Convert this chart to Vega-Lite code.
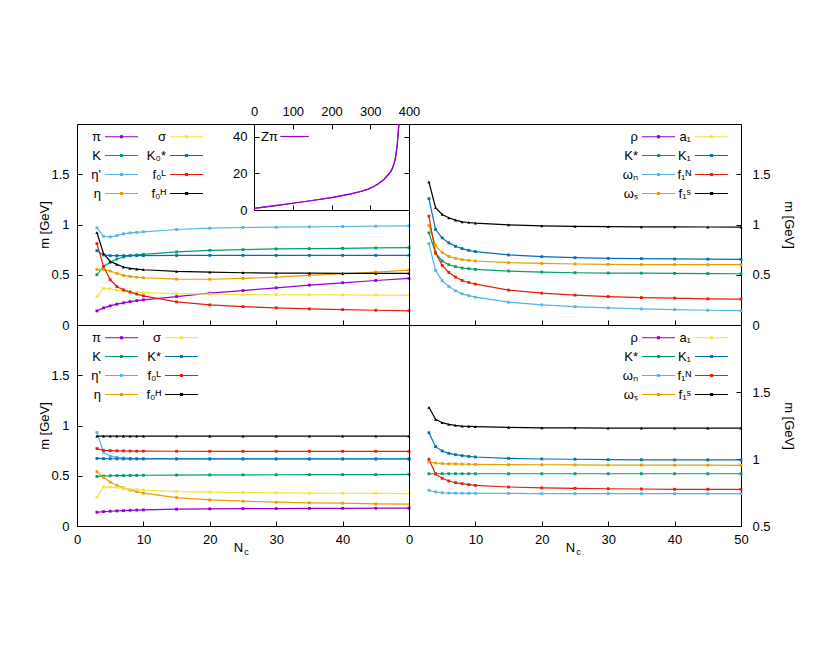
{
  "$schema": "https://vega.github.io/schema/vega-lite/v6.json",
  "padding": {"left": 38, "top": 104, "right": 5, "bottom": 5},
  "background": "white",
  "config": {
    "view": {"stroke": "black", "strokeWidth": 1},
    "axis": {"tickSize": -5, "tickColor": "black", "tickWidth": 1, "labelPadding": 12, "domain": false, "grid": false, "labelFont": "Liberation Sans", "labelFontSize": 13, "labelColor": "black", "titleFont": "Liberation Sans", "titleFontSize": 13, "titleFontWeight": "normal", "titleColor": "black", "labelFlush": false, "labelOverlap": false, "format": "~r"},
    "legend": {"labelFont": "Liberation Sans", "labelFontSize": 13, "labelColor": "black"}
  },
  "datasets": {
    "tl": [
      {"Nc": 3, "pi": 0.14, "sigma": 0.283, "K": 0.5, "K0s": 0.74, "etap": 0.967, "f0L": 0.81, "eta": 0.552, "f0H": 0.92},
      {"Nc": 4, "pi": 0.17, "sigma": 0.367, "K": 0.583, "K0s": 0.697, "etap": 0.883, "f0L": 0.583, "eta": 0.553, "f0H": 0.71},
      {"Nc": 5, "pi": 0.19, "sigma": 0.36, "K": 0.623, "K0s": 0.69, "etap": 0.877, "f0L": 0.45, "eta": 0.537, "f0H": 0.633},
      {"Nc": 6, "pi": 0.207, "sigma": 0.347, "K": 0.657, "K0s": 0.69, "etap": 0.89, "f0L": 0.383, "eta": 0.513, "f0H": 0.603},
      {"Nc": 7, "pi": 0.22, "sigma": 0.337, "K": 0.677, "K0s": 0.69, "etap": 0.907, "f0L": 0.35, "eta": 0.493, "f0H": 0.577},
      {"Nc": 8, "pi": 0.233, "sigma": 0.33, "K": 0.69, "K0s": 0.69, "etap": 0.917, "f0L": 0.327, "eta": 0.483, "f0H": 0.563},
      {"Nc": 9, "pi": 0.243, "sigma": 0.326, "K": 0.697, "K0s": 0.69, "etap": 0.922, "f0L": 0.307, "eta": 0.476, "f0H": 0.556},
      {"Nc": 10, "pi": 0.25, "sigma": 0.323, "K": 0.703, "K0s": 0.69, "etap": 0.927, "f0L": 0.29, "eta": 0.47, "f0H": 0.55},
      {"Nc": 15, "pi": 0.283, "sigma": 0.313, "K": 0.727, "K0s": 0.692, "etap": 0.95, "f0L": 0.23, "eta": 0.456, "f0H": 0.533},
      {"Nc": 20, "pi": 0.317, "sigma": 0.307, "K": 0.743, "K0s": 0.693, "etap": 0.963, "f0L": 0.2, "eta": 0.455, "f0H": 0.527},
      {"Nc": 25, "pi": 0.343, "sigma": 0.303, "K": 0.75, "K0s": 0.693, "etap": 0.97, "f0L": 0.183, "eta": 0.463, "f0H": 0.52},
      {"Nc": 30, "pi": 0.37, "sigma": 0.301, "K": 0.757, "K0s": 0.693, "etap": 0.973, "f0L": 0.17, "eta": 0.477, "f0H": 0.517},
      {"Nc": 35, "pi": 0.397, "sigma": 0.3, "K": 0.76, "K0s": 0.693, "etap": 0.977, "f0L": 0.16, "eta": 0.493, "f0H": 0.516},
      {"Nc": 40, "pi": 0.42, "sigma": 0.299, "K": 0.763, "K0s": 0.693, "etap": 0.98, "f0L": 0.153, "eta": 0.51, "f0H": 0.514},
      {"Nc": 45, "pi": 0.443, "sigma": 0.298, "K": 0.767, "K0s": 0.693, "etap": 0.983, "f0L": 0.147, "eta": 0.527, "f0H": 0.513},
      {"Nc": 50, "pi": 0.463, "sigma": 0.297, "K": 0.77, "K0s": 0.693, "etap": 0.987, "f0L": 0.14, "eta": 0.547, "f0H": 0.513}
    ],
    "tr": [
      {"Nc": 3, "Ks": 0.917, "K1": 1.257, "omN": 0.81, "f1N": 1.083, "omS": 0.99, "f1S": 1.423},
      {"Nc": 4, "Ks": 0.717, "K1": 0.95, "omN": 0.543, "f1N": 0.717, "omS": 0.79, "f1S": 1.167},
      {"Nc": 5, "Ks": 0.637, "K1": 0.867, "omN": 0.44, "f1N": 0.593, "omS": 0.72, "f1S": 1.1},
      {"Nc": 6, "Ks": 0.6, "K1": 0.817, "omN": 0.383, "f1N": 0.523, "omS": 0.683, "f1S": 1.067},
      {"Nc": 7, "Ks": 0.58, "K1": 0.783, "omN": 0.34, "f1N": 0.477, "omS": 0.663, "f1S": 1.043},
      {"Nc": 8, "Ks": 0.567, "K1": 0.76, "omN": 0.31, "f1N": 0.443, "omS": 0.65, "f1S": 1.027},
      {"Nc": 9, "Ks": 0.56, "K1": 0.743, "omN": 0.292, "f1N": 0.423, "omS": 0.643, "f1S": 1.02},
      {"Nc": 10, "Ks": 0.553, "K1": 0.73, "omN": 0.277, "f1N": 0.407, "omS": 0.637, "f1S": 1.013},
      {"Nc": 15, "Ks": 0.537, "K1": 0.697, "omN": 0.227, "f1N": 0.347, "omS": 0.62, "f1S": 0.997},
      {"Nc": 20, "Ks": 0.527, "K1": 0.68, "omN": 0.2, "f1N": 0.317, "omS": 0.613, "f1S": 0.987},
      {"Nc": 25, "Ks": 0.52, "K1": 0.67, "omN": 0.183, "f1N": 0.297, "omS": 0.607, "f1S": 0.982},
      {"Nc": 30, "Ks": 0.517, "K1": 0.663, "omN": 0.17, "f1N": 0.283, "omS": 0.603, "f1S": 0.979},
      {"Nc": 35, "Ks": 0.516, "K1": 0.66, "omN": 0.16, "f1N": 0.273, "omS": 0.601, "f1S": 0.977},
      {"Nc": 40, "Ks": 0.513, "K1": 0.657, "omN": 0.153, "f1N": 0.267, "omS": 0.6, "f1S": 0.976},
      {"Nc": 45, "Ks": 0.512, "K1": 0.655, "omN": 0.147, "f1N": 0.26, "omS": 0.6, "f1S": 0.975},
      {"Nc": 50, "Ks": 0.51, "K1": 0.653, "omN": 0.143, "f1N": 0.257, "omS": 0.6, "f1S": 0.973}
    ],
    "bl": [
      {"Nc": 3, "pi": 0.137, "sigma": 0.287, "K": 0.493, "Ks": 0.672, "etap": 0.93, "f0L": 0.77, "eta": 0.54, "f0H": 0.895},
      {"Nc": 4, "pi": 0.143, "sigma": 0.387, "K": 0.497, "Ks": 0.67, "etap": 0.735, "f0L": 0.753, "eta": 0.483, "f0H": 0.895},
      {"Nc": 5, "pi": 0.147, "sigma": 0.387, "K": 0.5, "Ks": 0.669, "etap": 0.695, "f0L": 0.75, "eta": 0.437, "f0H": 0.895},
      {"Nc": 6, "pi": 0.15, "sigma": 0.383, "K": 0.501, "Ks": 0.669, "etap": 0.683, "f0L": 0.748, "eta": 0.403, "f0H": 0.895},
      {"Nc": 7, "pi": 0.153, "sigma": 0.373, "K": 0.502, "Ks": 0.668, "etap": 0.677, "f0L": 0.747, "eta": 0.38, "f0H": 0.895},
      {"Nc": 8, "pi": 0.156, "sigma": 0.367, "K": 0.503, "Ks": 0.668, "etap": 0.673, "f0L": 0.746, "eta": 0.357, "f0H": 0.895},
      {"Nc": 9, "pi": 0.158, "sigma": 0.362, "K": 0.504, "Ks": 0.668, "etap": 0.671, "f0L": 0.745, "eta": 0.343, "f0H": 0.895},
      {"Nc": 10, "pi": 0.16, "sigma": 0.357, "K": 0.505, "Ks": 0.668, "etap": 0.67, "f0L": 0.745, "eta": 0.327, "f0H": 0.895},
      {"Nc": 15, "pi": 0.167, "sigma": 0.343, "K": 0.507, "Ks": 0.667, "etap": 0.669, "f0L": 0.744, "eta": 0.283, "f0H": 0.895},
      {"Nc": 20, "pi": 0.17, "sigma": 0.337, "K": 0.508, "Ks": 0.667, "etap": 0.668, "f0L": 0.743, "eta": 0.26, "f0H": 0.895},
      {"Nc": 25, "pi": 0.172, "sigma": 0.333, "K": 0.509, "Ks": 0.667, "etap": 0.668, "f0L": 0.743, "eta": 0.247, "f0H": 0.895},
      {"Nc": 30, "pi": 0.173, "sigma": 0.33, "K": 0.51, "Ks": 0.667, "etap": 0.667, "f0L": 0.743, "eta": 0.237, "f0H": 0.895},
      {"Nc": 35, "pi": 0.175, "sigma": 0.327, "K": 0.511, "Ks": 0.667, "etap": 0.667, "f0L": 0.743, "eta": 0.23, "f0H": 0.895},
      {"Nc": 40, "pi": 0.176, "sigma": 0.326, "K": 0.512, "Ks": 0.667, "etap": 0.667, "f0L": 0.743, "eta": 0.227, "f0H": 0.895},
      {"Nc": 45, "pi": 0.177, "sigma": 0.325, "K": 0.512, "Ks": 0.667, "etap": 0.667, "f0L": 0.743, "eta": 0.22, "f0H": 0.895},
      {"Nc": 50, "pi": 0.177, "sigma": 0.323, "K": 0.513, "Ks": 0.667, "etap": 0.667, "f0L": 0.743, "eta": 0.217, "f0H": 0.895}
    ],
    "br": [
      {"Nc": 3, "Ks": 0.89, "K1": 1.196, "omN": 0.766, "f1N": 0.998, "omS": 0.977, "f1S": 1.386},
      {"Nc": 4, "Ks": 0.89, "K1": 1.092, "omN": 0.754, "f1N": 0.888, "omS": 0.97, "f1S": 1.296},
      {"Nc": 5, "Ks": 0.89, "K1": 1.06, "omN": 0.748, "f1N": 0.856, "omS": 0.966, "f1S": 1.271},
      {"Nc": 6, "Ks": 0.89, "K1": 1.042, "omN": 0.746, "f1N": 0.836, "omS": 0.964, "f1S": 1.259},
      {"Nc": 7, "Ks": 0.89, "K1": 1.032, "omN": 0.745, "f1N": 0.823, "omS": 0.963, "f1S": 1.251},
      {"Nc": 8, "Ks": 0.89, "K1": 1.025, "omN": 0.745, "f1N": 0.816, "omS": 0.962, "f1S": 1.246},
      {"Nc": 9, "Ks": 0.89, "K1": 1.019, "omN": 0.744, "f1N": 0.809, "omS": 0.961, "f1S": 1.243},
      {"Nc": 10, "Ks": 0.89, "K1": 1.015, "omN": 0.744, "f1N": 0.803, "omS": 0.96, "f1S": 1.241},
      {"Nc": 15, "Ks": 0.89, "K1": 1.005, "omN": 0.743, "f1N": 0.791, "omS": 0.958, "f1S": 1.236},
      {"Nc": 20, "Ks": 0.89, "K1": 1.0, "omN": 0.742, "f1N": 0.784, "omS": 0.957, "f1S": 1.233},
      {"Nc": 25, "Ks": 0.89, "K1": 0.998, "omN": 0.742, "f1N": 0.781, "omS": 0.956, "f1S": 1.232},
      {"Nc": 30, "Ks": 0.89, "K1": 0.995, "omN": 0.742, "f1N": 0.778, "omS": 0.955, "f1S": 1.231},
      {"Nc": 35, "Ks": 0.89, "K1": 0.994, "omN": 0.741, "f1N": 0.776, "omS": 0.955, "f1S": 1.231},
      {"Nc": 40, "Ks": 0.89, "K1": 0.993, "omN": 0.741, "f1N": 0.774, "omS": 0.954, "f1S": 1.231},
      {"Nc": 45, "Ks": 0.89, "K1": 0.993, "omN": 0.741, "f1N": 0.774, "omS": 0.954, "f1S": 1.231},
      {"Nc": 50, "Ks": 0.89, "K1": 0.993, "omN": 0.741, "f1N": 0.774, "omS": 0.953, "f1S": 1.231}
    ],
    "z": [
      {"zx": 0, "Z": 0.9}, {"zx": 50, "Z": 2.3}, {"zx": 100, "Z": 3.7}, {"zx": 150, "Z": 5.2},
      {"zx": 200, "Z": 6.8}, {"zx": 250, "Z": 8.8}, {"zx": 275, "Z": 10.1}, {"zx": 293, "Z": 11.3},
      {"zx": 310, "Z": 13.0}, {"zx": 320, "Z": 14.2}, {"zx": 330, "Z": 15.8}, {"zx": 336, "Z": 16.8},
      {"zx": 345, "Z": 19.0}, {"zx": 353, "Z": 21.0}, {"zx": 358, "Z": 23.2}, {"zx": 362, "Z": 25.6},
      {"zx": 365, "Z": 28.5}, {"zx": 368, "Z": 32.9}, {"zx": 370, "Z": 36.5}, {"zx": 372, "Z": 42.0},
      {"zx": 374, "Z": 47.0}, {"zx": 376, "Z": 53.0}
    ]
  },
  "columns": 2,
  "spacing": 0,
  "bounds": "flush",
  "resolve": {"scale": {"x": "independent", "y": "independent", "color": "independent"}, "legend": {"color": "independent"}},
  "concat": [
    {
      "width": 332, "height": 201,
      "resolve": {"scale": {"x": "independent", "y": "independent", "color": "independent"}, "legend": {"color": "independent"}},
      "layer": [
        {
          "data": {"name": "tl"},
          "transform": [{"fold": ["pi", "K", "etap", "eta", "sigma", "K0s", "f0L", "f0H"], "as": ["meson", "m"]}],
          "layer": [
            {
              "mark": {"type": "line", "strokeWidth": 1.2},
              "encoding": {
                "x": {"field": "Nc", "type": "quantitative", "scale": {"domain": [0, 50], "nice": false}, "axis": {"orient": "bottom", "values": [10, 20, 30, 40], "labels": false, "title": null}},
                "y": {"field": "m", "type": "quantitative", "scale": {"domain": [0, 2], "nice": false, "zero": false}, "axis": {"orient": "left", "values": [0, 0.5, 1, 1.5], "title": "m [GeV]", "titlePadding": -1, "labelPadding": 13}},
                "color": {"field": "meson", "type": "nominal", "scale": {"domain": ["pi", "K", "etap", "eta", "sigma", "K0s", "f0L", "f0H"], "range": ["#9400d3", "#009e73", "#56b4e9", "#e69f00", "#f0e442", "#0072b2", "#e51e10", "#000000"]},
                  "legend": {"title": null, "orient": "none", "legendX": 38, "legendY": 6, "padding": 0, "columns": 2, "symbolType": "M-3,0H3M-0.18,-0.18H0.18V0.18H-0.18Z", "symbolSize": 121, "symbolStrokeWidth": 1.2, "labelAlign": "right", "labelOffset": -27, "rowPadding": 5, "columnPadding": 5, "labelExpr": "{pi:'π',sigma:'σ',K:'K',K0s:'K₀*',etap:\"η'\",f0L:'f₀ᴸ',eta:'η',f0H:'f₀ᴴ'}[datum.value]"}}
              }
            },
            {
              "transform": [{"filter": {"not": {"field": "meson", "equal": "f0H"}}}],
              "mark": {"type": "point", "filled": true, "size": 8, "opacity": 1, "shape": "square"},
              "encoding": {
                "x": {"field": "Nc", "type": "quantitative"},
                "y": {"field": "m", "type": "quantitative"},
                "color": {"field": "meson", "type": "nominal", "legend": null}
              }
            },
            {
              "transform": [{"filter": {"field": "meson", "equal": "f0H"}}],
              "mark": {"type": "point", "filled": true, "size": 10, "opacity": 1, "shape": "triangle-up"},
              "encoding": {
                "x": {"field": "Nc", "type": "quantitative"},
                "y": {"field": "m", "type": "quantitative"},
                "color": {"field": "meson", "type": "nominal", "legend": null}
              }
            }
          ]
        },
        {
          "data": {"name": "z"},
          "resolve": {"axis": {"x": "independent", "y": "independent"}},
          "layer": [
            {
              "mark": {"type": "line", "strokeWidth": 1.2, "clip": true},
              "encoding": {
                "x": {"field": "zx", "type": "quantitative", "scale": {"domain": [0, 400], "range": [177, 332], "nice": false}, "axis": {"orient": "top", "values": [0, 100, 200, 300, 400], "title": null, "labelPadding": 11}},
                "y": {"field": "Z", "type": "quantitative", "scale": {"domain": [0, 47], "range": [86, 0], "nice": false}, "axis": {"orient": "left", "offset": -177, "values": [0, 20, 40], "title": null, "domain": true, "domainColor": "black"}},
                "color": {"datum": "Zπ", "type": "nominal", "scale": {"domain": ["Zπ"], "range": ["#9400d3"]},
                  "legend": {"title": null, "orient": "none", "legendX": 211, "legendY": 6, "padding": 0, "symbolType": "M-3,0H3", "symbolSize": 90, "symbolStrokeWidth": 1.2, "labelAlign": "right", "labelOffset": -23}}
              }
            },
            {
              "mark": {"type": "line", "strokeWidth": 1.2, "clip": true},
              "encoding": {
                "x": {"field": "zx", "type": "quantitative", "axis": {"orient": "bottom", "offset": -115, "values": [0, 100, 200, 300, 400], "labels": false, "title": null, "domain": true, "domainColor": "black"}},
                "y": {"field": "Z", "type": "quantitative", "axis": {"orient": "right", "values": [0, 20, 40], "labels": false, "title": null}},
                "color": {"datum": "Zπ", "type": "nominal", "legend": null}
              }
            }
          ]
        }
      ]
    },
    {
      "width": 332, "height": 201,
      "data": {"name": "tr"},
      "transform": [{"fold": ["Ks", "omN", "omS", "K1", "f1N", "f1S"], "as": ["meson", "m"]}],
      "layer": [
        {
          "mark": {"type": "line", "strokeWidth": 1.2},
          "encoding": {
            "x": {"field": "Nc", "type": "quantitative", "scale": {"domain": [0, 50], "nice": false}, "axis": {"orient": "bottom", "values": [10, 20, 30, 40], "labels": false, "title": null}},
            "y": {"field": "m", "type": "quantitative", "scale": {"domain": [0, 2], "nice": false, "zero": false}, "axis": {"orient": "right", "values": [0, 0.5, 1, 1.5], "title": "m [GeV]", "titlePadding": 11, "labelPadding": 16}},
            "color": {"field": "meson", "type": "nominal", "scale": {"domain": ["rho", "Ks", "omN", "omS", "a1", "K1", "f1N", "f1S"], "range": ["#9400d3", "#009e73", "#56b4e9", "#e69f00", "#f0e442", "#0072b2", "#e51e10", "#000000"]},
              "legend": {"title": null, "orient": "none", "legendX": 243, "legendY": 6, "padding": 0, "columns": 2, "symbolType": "M-3,0H3M-0.18,-0.18H0.18V0.18H-0.18Z", "symbolSize": 121, "symbolStrokeWidth": 1.2, "labelAlign": "right", "labelOffset": -27, "rowPadding": 5, "columnPadding": -1, "labelExpr": "{rho:'ρ',a1:'a₁',Ks:'K*',K1:'K₁',omN:'ωₙ',f1N:'f₁ᴺ',omS:'ωₛ',f1S:'f₁ˢ'}[datum.value]"}}
          }
        },
        {
          "transform": [{"filter": {"not": {"field": "meson", "equal": "f1S"}}}],
          "mark": {"type": "point", "filled": true, "size": 8, "opacity": 1, "shape": "square"},
          "encoding": {
            "x": {"field": "Nc", "type": "quantitative"},
            "y": {"field": "m", "type": "quantitative"},
            "color": {"field": "meson", "type": "nominal", "legend": null}
          }
        },
        {
          "transform": [{"filter": {"field": "meson", "equal": "f1S"}}],
          "mark": {"type": "point", "filled": true, "size": 10, "opacity": 1, "shape": "triangle-up"},
          "encoding": {
            "x": {"field": "Nc", "type": "quantitative"},
            "y": {"field": "m", "type": "quantitative"},
            "color": {"field": "meson", "type": "nominal", "legend": null}
          }
        }
      ]
    },
    {
      "width": 332, "height": 201,
      "data": {"name": "bl"},
      "transform": [{"fold": ["pi", "K", "etap", "eta", "sigma", "Ks", "f0L", "f0H"], "as": ["meson", "m"]}],
      "resolve": {"axis": {"x": "independent"}},
      "layer": [
        {
          "mark": {"type": "line", "strokeWidth": 1.2},
          "encoding": {
            "x": {"field": "Nc", "type": "quantitative", "scale": {"domain": [0, 50], "nice": false}, "axis": {"orient": "bottom", "values": [0, 10, 20, 30, 40], "title": "N", "titleX": 161, "titleY": 15.5, "titleBaseline": "top"}},
            "y": {"field": "m", "type": "quantitative", "scale": {"domain": [0, 2], "nice": false, "zero": false}, "axis": {"orient": "left", "values": [0, 0.5, 1, 1.5], "title": "m [GeV]", "titlePadding": -1, "labelPadding": 13}},
            "color": {"field": "meson", "type": "nominal", "scale": {"domain": ["pi", "K", "etap", "eta", "sigma", "Ks", "f0L", "f0H"], "range": ["#9400d3", "#009e73", "#56b4e9", "#e69f00", "#f0e442", "#0072b2", "#e51e10", "#000000"]},
              "legend": {"title": null, "orient": "none", "legendX": 38, "legendY": 6, "padding": 0, "columns": 2, "symbolType": "M-3,0H3M-0.18,-0.18H0.18V0.18H-0.18Z", "symbolSize": 121, "symbolStrokeWidth": 1.2, "labelAlign": "right", "labelOffset": -27, "rowPadding": 5, "columnPadding": 5, "labelExpr": "{pi:'π',sigma:'σ',K:'K',Ks:'K*',etap:\"η'\",f0L:'f₀ᴸ',eta:'η',f0H:'f₀ᴴ'}[datum.value]"}}
          }
        },
        {
          "transform": [{"filter": {"not": {"field": "meson", "equal": "f0H"}}}],
          "mark": {"type": "point", "filled": true, "size": 8, "opacity": 1, "shape": "square"},
          "encoding": {
            "x": {"field": "Nc", "type": "quantitative", "axis": {"orient": "bottom", "labels": false, "ticks": false, "domain": false, "title": "c", "titleFontSize": 9, "titleX": 169, "titleY": 21.5, "titleBaseline": "top"}},
            "y": {"field": "m", "type": "quantitative"},
            "color": {"field": "meson", "type": "nominal", "legend": null}
          }
        },
        {
          "transform": [{"filter": {"field": "meson", "equal": "f0H"}}],
          "mark": {"type": "point", "filled": true, "size": 10, "opacity": 1, "shape": "triangle-up"},
          "encoding": {
            "x": {"field": "Nc", "type": "quantitative", "axis": null},
            "y": {"field": "m", "type": "quantitative"},
            "color": {"field": "meson", "type": "nominal", "legend": null}
          }
        }
      ]
    },
    {
      "width": 332, "height": 201,
      "data": {"name": "br"},
      "transform": [{"fold": ["Ks", "omN", "omS", "K1", "f1N", "f1S"], "as": ["meson", "m"]}],
      "resolve": {"axis": {"x": "independent"}},
      "layer": [
        {
          "mark": {"type": "line", "strokeWidth": 1.2},
          "encoding": {
            "x": {"field": "Nc", "type": "quantitative", "scale": {"domain": [0, 50], "nice": false}, "axis": {"orient": "bottom", "values": [0, 10, 20, 30, 40, 50], "title": "N", "titleX": 161, "titleY": 15.5, "titleBaseline": "top"}},
            "y": {"field": "m", "type": "quantitative", "scale": {"domain": [0.5, 2], "nice": false, "zero": false}, "axis": {"orient": "right", "values": [0.5, 1, 1.5], "title": "m [GeV]", "titlePadding": 11, "labelPadding": 16}},
            "color": {"field": "meson", "type": "nominal", "scale": {"domain": ["rho", "Ks", "omN", "omS", "a1", "K1", "f1N", "f1S"], "range": ["#9400d3", "#009e73", "#56b4e9", "#e69f00", "#f0e442", "#0072b2", "#e51e10", "#000000"]},
              "legend": {"title": null, "orient": "none", "legendX": 243, "legendY": 6, "padding": 0, "columns": 2, "symbolType": "M-3,0H3M-0.18,-0.18H0.18V0.18H-0.18Z", "symbolSize": 121, "symbolStrokeWidth": 1.2, "labelAlign": "right", "labelOffset": -27, "rowPadding": 5, "columnPadding": -1, "labelExpr": "{rho:'ρ',a1:'a₁',Ks:'K*',K1:'K₁',omN:'ωₙ',f1N:'f₁ᴺ',omS:'ωₛ',f1S:'f₁ˢ'}[datum.value]"}}
          }
        },
        {
          "transform": [{"filter": {"not": {"field": "meson", "equal": "f1S"}}}],
          "mark": {"type": "point", "filled": true, "size": 8, "opacity": 1, "shape": "square"},
          "encoding": {
            "x": {"field": "Nc", "type": "quantitative", "axis": {"orient": "bottom", "labels": false, "ticks": false, "domain": false, "title": "c", "titleFontSize": 9, "titleX": 169, "titleY": 21.5, "titleBaseline": "top"}},
            "y": {"field": "m", "type": "quantitative"},
            "color": {"field": "meson", "type": "nominal", "legend": null}
          }
        },
        {
          "transform": [{"filter": {"field": "meson", "equal": "f1S"}}],
          "mark": {"type": "point", "filled": true, "size": 10, "opacity": 1, "shape": "triangle-up"},
          "encoding": {
            "x": {"field": "Nc", "type": "quantitative", "axis": null},
            "y": {"field": "m", "type": "quantitative"},
            "color": {"field": "meson", "type": "nominal", "legend": null}
          }
        }
      ]
    }
  ]
}
